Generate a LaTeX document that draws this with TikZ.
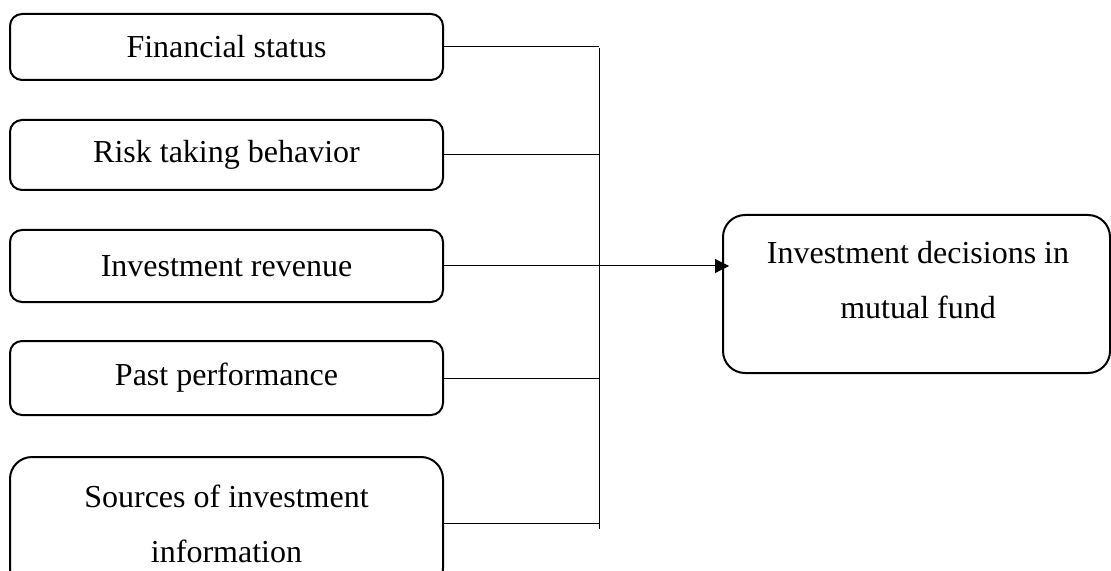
\documentclass[tikz,border=0pt]{standalone}
\usepackage{fontspec}
\setmainfont{Liberation Serif}
\usetikzlibrary{arrows.meta, positioning, calc}

\begin{document}
\begin{tikzpicture}[x=0.5pt, y=-0.5pt,
    factor/.style={draw, line width=1pt, rounded corners=6pt, minimum width=216.5pt,
        inner sep=0pt, align=center, font=\fontsize{16}{27.5}\selectfont},
    link/.style={line width=0.5pt},
    arr/.style={line width=0.5pt, -{Triangle[length=7pt,width=7pt]}}]
        \useasboundingbox (0,0) rectangle (1111,571);

        % Factors (left column)
        \foreach \n/\y/\h/\r/\t in {f1/47/33pt/6pt/Financial status,
                                    f2/155/35pt/6pt/Risk taking behavior,
                                    f3/266/36pt/6pt/Investment revenue,
                                    f4/378/37pt/6pt/Past performance,
                                    f5/523.5/66.5pt/11pt/{Sources of investment\\information}} {
            \node[factor, minimum height=\h, rounded corners=\r] (\n) at (226.5, \y) {\t};
        }

        % Outcome
        \node[factor, minimum width=193.5pt, minimum height=79pt, rounded corners=11pt] (dec) at (916.5, 294) {};
        \node[font=\fontsize{16}{27.5}\selectfont, align=center, anchor=base] (dectext) at (918, 318) {Investment decisions in\\mutual fund};

        % Bus line
        \coordinate (bustop) at (599, 48);
        \coordinate (busbot) at (599, 529);
        \draw[link] (bustop) -- (busbot);

        % Links to the bus
        \foreach \n in {f1, f2, f4, f5} {
            \draw[link] (\n.east) -- (\n.east -| bustop);
        }
        \draw[arr] (f3.east) -- ([xshift=3.5pt]f3.east -| dec.west);
    \end{tikzpicture}
\end{document}
